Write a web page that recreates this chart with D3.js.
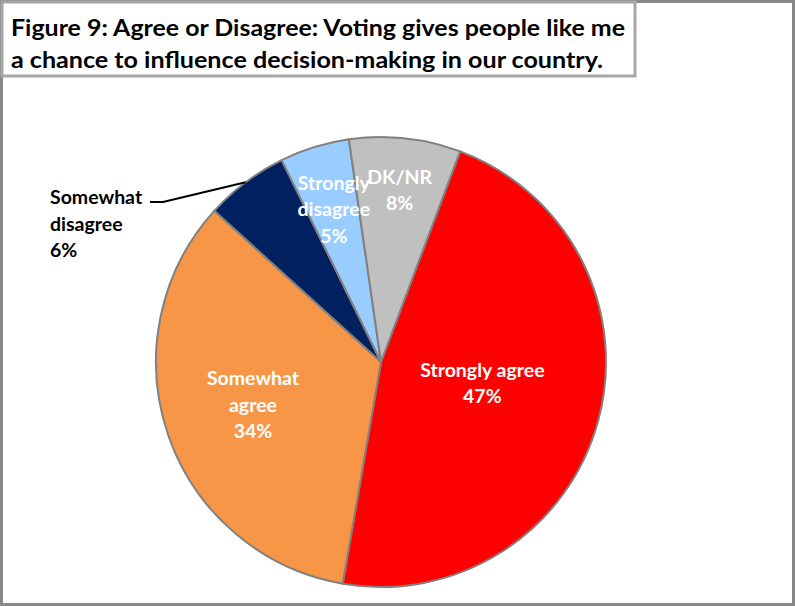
<!DOCTYPE html>
<html>
<head>
<meta charset="utf-8">
<script src="https://cdnjs.cloudflare.com/ajax/libs/d3/7.8.5/d3.min.js"></script>
<style>
  body { margin: 0; background: #fff; }
  svg { display: block; }
  text { font-family: Lato, "Open Sans", sans-serif; font-weight: bold; }
</style>
</head>
<body>
<svg width="795" height="606"></svg>
<script>
//	chart data
var categories = ["Strongly agree", "Somewhat agree", "Somewhat disagree", "Strongly disagree", "DK/NR"];
var values = [47, 34, 6, 5, 8];
var labelLines = [["Strongly agree", "47%"], ["Somewhat", "agree", "34%"], ["Somewhat", "disagree", "6%"], ["Strongly", "disagree", "5%"], ["DK/NR", "8%"]];
var colors = ["#FF0000", "#F79646", "#002060", "#99CCFF", "#C0C0C0"];
var titleLines = ["Figure 9: Agree or Disagree: Voting gives people like me",
    "a chance to influence decision-making in our country."];

//	layout
var svg = d3.select("svg"),
        width = +svg.attr("width"),
        height = +svg.attr("height");
var cx = 381, cy = 362, radius = 225;
var start = 20.6 * Math.PI / 180;
// label distance from centre (share of radius) and angle nudge in degrees
var labelDist = [0.46, 0.6, 0, 0.71, 0.77];
var labelNudge = [-3.5, 0.5, 0, 0, 0];

//	outer frame
svg.append("rect")
        .attr("x", 1.5).attr("y", 1.5)
        .attr("width", width - 3).attr("height", height - 3)
        .attr("fill", "#fff")
        .attr("stroke", "#888")
        .attr("stroke-width", 3);

//	pie
var pie = d3.pie().sort(null).value(function (d) {
    return d;
}).startAngle(start).endAngle(start + 2 * Math.PI);
var arc = d3.arc().innerRadius(0).outerRadius(radius);
var arcs = pie(values);

var g = svg.append("g").attr("transform", "translate(" + cx + "," + cy + ")");
g.selectAll("path.slice")
        .data(arcs)
        .enter().append("path")
        .attr("class", "slice")
        .attr("d", arc)
        .attr("fill", function (d, i) {
            return colors[i];
        })
        .attr("stroke", "#808080")
        .attr("stroke-width", 2)
        .attr("stroke-linejoin", "round");

//	inside labels
var lineH = 26.5, fs = 19.5;
arcs.forEach(function (d, i) {
    if (labelDist[i] === 0)
        return;
    var a = (d.startAngle + d.endAngle) / 2 + labelNudge[i] * Math.PI / 180;
    var r = radius * labelDist[i];
    var x = Math.sin(a) * r, y = -Math.cos(a) * r;
    var lines = labelLines[i];
    var t = g.append("text")
            .attr("text-anchor", "middle")
            .attr("fill", "#fff")
            .attr("font-size", fs);
    lines.forEach(function (s, k) {
        t.append("tspan")
                .attr("x", x)
                .attr("y", y + (k - (lines.length - 1) / 2) * lineH + 7)
                .text(s);
    });
});

//	outside label with leader line (Somewhat disagree)
var sd = arcs[2];
var am = (sd.startAngle + sd.endAngle) / 2;
var ex = Math.sin(am) * radius, ey = -Math.cos(am) * radius;
g.append("polyline")
        .attr("points", [[ex, ey], [163 - cx, 202 - cy], [150 - cx, 202 - cy]].map(function (p) {
            return p.join(",");
        }).join(" "))
        .attr("fill", "none")
        .attr("stroke", "#000")
        .attr("stroke-width", 2);
var ot = svg.append("text").attr("fill", "#000").attr("font-size", fs);
labelLines[2].forEach(function (s, k) {
    ot.append("tspan").attr("x", 50).attr("y", 204 + k * lineH).text(s);
});

//	title box
svg.append("rect")
        .attr("x", 2).attr("y", 2)
        .attr("width", 633).attr("height", 74)
        .attr("fill", "#fff")
        .attr("stroke", "#a6a6a6")
        .attr("stroke-width", 3);
titleLines.forEach(function (s, k) {
    svg.append("text")
            .attr("x", 11)
            .attr("y", 36 + k * 32)
            .attr("font-size", 23)
            .attr("fill", "#000")
            .attr("textLength", k === 0 ? 614 : 592)
            .attr("lengthAdjust", "spacingAndGlyphs")
            .text(s);
});
</script>
</body>
</html>
